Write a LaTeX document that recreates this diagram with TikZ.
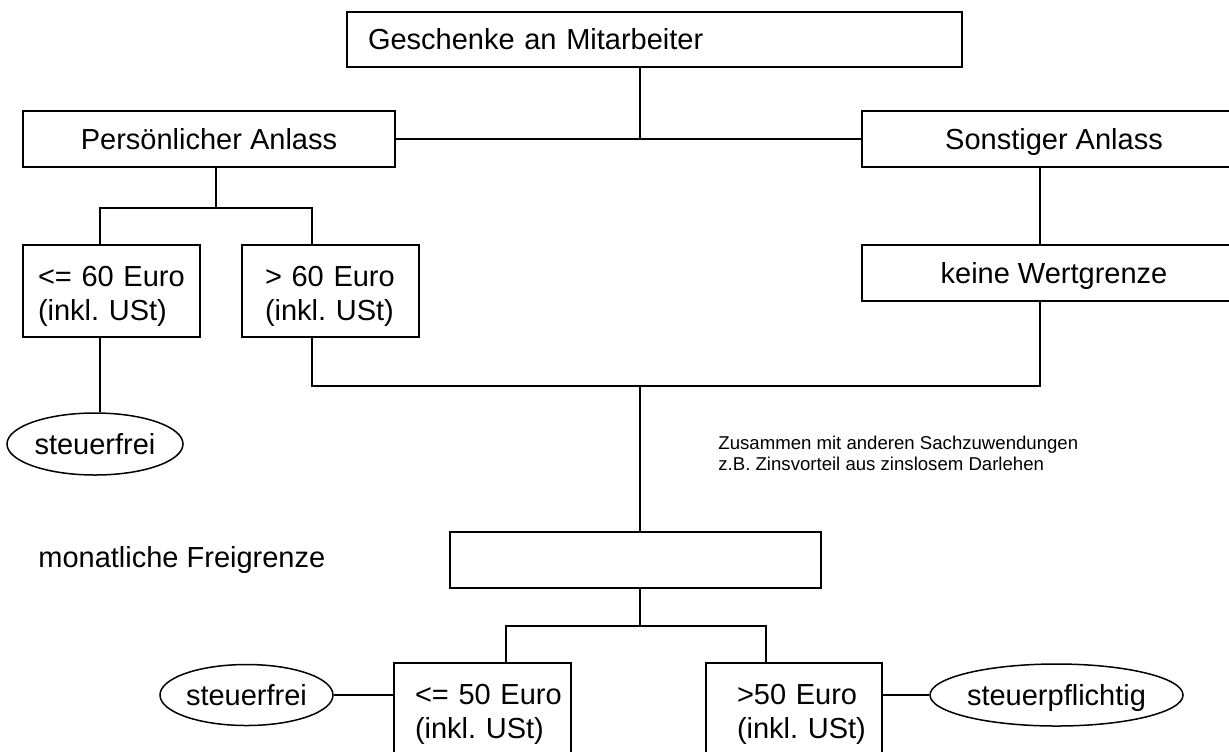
\documentclass[tikz,border=0pt]{standalone}
\usepackage{fontspec}
\setmainfont{Liberation Sans}
\usetikzlibrary{shapes.geometric}
\hfuzz=20pt
\newcommand{\topstrut}{\rule{0pt}{15.5pt}}
\tikzset{
 box/.style={draw, line width=0.75pt, inner sep=0pt, minimum height=28pt, font=\fontsize{14.5}{17}\selectfont},
 one/.style={box, text height=13pt, text depth=2.6pt},
 tall/.style={box, minimum height=46pt, align=left},
 oval/.style={draw, ellipse, line width=0.75pt, inner sep=0pt, minimum height=31pt, text height=13pt, text depth=2.6pt, font=\fontsize{14.5}{17}\selectfont},
 conn/.style={line width=0.75pt},
 lbl/.style={inner sep=0pt, font=\fontsize{14.5}{17}\selectfont},
 note/.style={inner sep=0pt, font=\fontsize{9.3}{10.5}\selectfont},
}
\begin{document}
\begin{tikzpicture}[x=0.5pt,y=-0.5pt]
\useasboundingbox (0,0) rectangle (1229,751);
\clip (0,0) rectangle (1229,751);
\node[one, minimum height=27.5pt, text width=286.5pt, inner xsep=10.5pt, align=left] (top) at (654.5,39.5) {Geschenke an Mitarbeiter};
\node[one, minimum width=186pt] (pers) at (209,139) {Persönlicher Anlass};
\node[one, minimum width=192pt] (sonst) at (1054,139) {Sonstiger Anlass};
\node[one, minimum width=192pt] (keine) at (1054,273) {keine Wertgrenze};
\node[tall, text width=73.5pt, inner xsep=7.5pt] (le60) at (111.5,291) {\topstrut<=~60~Euro\\(inkl.~USt)};
\node[tall, text width=65.5pt, inner xsep=11.5pt] (gt60) at (330.5,291) {\topstrut>~60~Euro\\(inkl.~USt)};
\node[box, minimum width=185.5pt] (frei) at (635.5,560) {};
\node[tall, text width=67.5pt, inner xsep=10.5pt] (le50) at (482.5,709) {\topstrut<=~50~Euro\\(inkl.~USt)};
\node[tall, text width=57pt, inner xsep=15.5pt] (gt50) at (794,709) {\topstrut>50~Euro\\(inkl.~USt)};
\node[oval, minimum width=88pt] (sf1) at (95,444) {steuerfrei};
\node[oval, minimum width=86.5pt, minimum height=30.5pt] (sf2) at (246.5,695) {steuerfrei};
\node[oval, minimum width=106.5pt] (sp) at (1056.5,695) {steuerpflichtig};
\node[lbl, anchor=west] (mf) at (38,560) {monatliche Freigrenze};
\node[note, anchor=base west] (n1) at (718,449) {Zusammen mit anderen Sachzuwendungen};
\node[note, anchor=base west] (n2) at (718,470) {z.B. Zinsvorteil aus zinslosem Darlehen};
\coordinate (j) at (640,139);
\coordinate (bl) at (100,208); \coordinate (br) at (312,208); \coordinate (bm) at (216,208);
\coordinate (ml) at (312,386); \coordinate (mr) at (1040,386); \coordinate (mc) at (640,386);
\coordinate (dl) at (506,626); \coordinate (dr) at (766,626); \coordinate (dc) at (640,626);
\draw[conn] (pers.east) -- (sonst.west);
\draw[conn] (top.south -| j) -- (j);
\draw[conn] (pers.south -| bm) -- (bm);
\draw[conn] (le60.north -| bl) -- (bl) -- (br) -- (gt60.north -| br);
\draw[conn] (le60.south -| bl) -- (sf1.north -| bl);
\draw[conn] (sonst.south -| mr) -- (keine.north -| mr);
\draw[conn] (gt60.south -| ml) -- (ml) -- (mr) -- (keine.south -| mr);
\draw[conn] (mc) -- (frei.north -| mc);
\draw[conn] (frei.south -| dc) -- (dc);
\draw[conn] (le50.north -| dl) -- (dl) -- (dr) -- (gt50.north -| dr);
\draw[conn] (sf2.east) -- (le50.west |- sf2.east);
\draw[conn] (gt50.east |- sp.west) -- (sp.west);
\end{tikzpicture}
\end{document}
